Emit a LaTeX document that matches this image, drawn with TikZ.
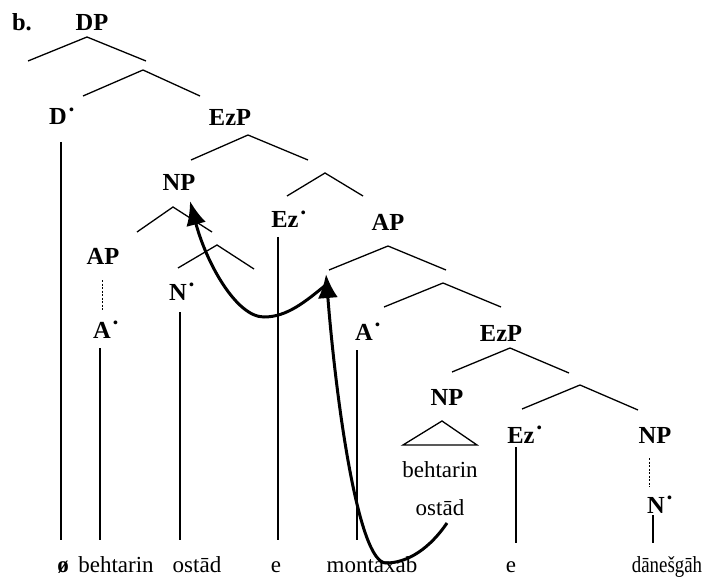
\documentclass[tikz,border=0pt]{standalone}
\usepackage{fontspec}
\setmainfont{Liberation Serif}
\usetikzlibrary{arrows.meta}
\newcommand{\bul}{\rlap{\raisebox{0.42em}{\fontsize{14}{14}\selectfont\,•}}}
\begin{document}
\begin{tikzpicture}[x=1pt,y=-1pt,
  lab/.style={font=\fontsize{24.5}{26}\selectfont\bfseries, anchor=base, inner sep=0pt},
  wrd/.style={font=\fontsize{23}{25}\selectfont, anchor=base, inner sep=0pt},
  br/.style={line width=1.3pt},
  vl/.style={line width=1.6pt},
  dl/.style={line width=1pt, dash pattern=on 2pt off 1.5pt},
  mv/.style={line width=3pt, -{Latex[length=24pt,width=20pt]}}]
\useasboundingbox (0,0) rectangle (704,580);
% labels
\node[lab] (bl) at (22,31) {b.};
\node[lab] (dp) at (92,31) {DP};
\node[lab] (dbar) at (58,125) {D\bul};
\node[lab] (ezp1) at (230,126) {EzP};
\node[lab] (np1) at (179,191) {NP};
\node[lab] (ez1) at (285,228) {Ez\bul};
\node[lab] (ap1) at (103,264) {AP};
\node[lab] (n1) at (178,300) {N\bul};
\node[lab] (a1) at (102,338) {A\bul};
\node[lab] (ap2) at (388,230) {AP};
\node[lab] (a2) at (364,340) {A\bul};
\node[lab] (ezp2) at (501,341) {EzP};
\node[lab] (np3) at (447,405) {NP};
\node[lab] (ez2) at (521,443) {Ez\bul};
\node[lab] (np4) at (655,443) {NP};
\node[lab] (n2) at (656,513) {N\bul};
\node[wrd] (inb) at (440,477) {behtarin};
\node[wrd] (ino) at (440,515) {ostād};
% bottom words
\node[wrd] (w0) at (63,572) {\textbf{ø}};
\node[wrd] (w1) at (116,572) {behtarin};
\node[wrd] (w2) at (197,572) {ostād};
\node[wrd] (w3) at (276,572) {e};
\node[wrd] (w4) at (372,572) {montaxab};
\node[wrd] (w5) at (511,572) {e};
\node[wrd] (w6) at (667,572) {\scalebox{0.82}[1]{dānešgāh}};
% branch coordinates
\coordinate (b1a) at (87,37);  \coordinate (b1l) at (28,61);  \coordinate (b1r) at (146,61);
\coordinate (b2a) at (143,70); \coordinate (b2l) at (83,96);  \coordinate (b2r) at (200,96);
\coordinate (b3a) at (248,135);\coordinate (b3l) at (191,160);\coordinate (b3r) at (308,160);
\coordinate (b4a) at (173,207);\coordinate (b4l) at (137,232);\coordinate (b4r) at (212,232);
\coordinate (b5a) at (217,245);\coordinate (b5l) at (178,268);\coordinate (b5r) at (254,269);
\coordinate (b6a) at (325,173);\coordinate (b6l) at (287,196);\coordinate (b6r) at (363,196);
\coordinate (b7a) at (388,246);\coordinate (b7l) at (329,270);\coordinate (b7r) at (446,270);
\coordinate (b8a) at (443,283);\coordinate (b8l) at (384,307);\coordinate (b8r) at (501,307);
\coordinate (b9a) at (510,348);\coordinate (b9l) at (452,372);\coordinate (b9r) at (569,373);
\coordinate (b10a) at (580,385);\coordinate (b10l) at (522,409);\coordinate (b10r) at (638,410);
\coordinate (ta) at (442,421); \coordinate (tl) at (403,445); \coordinate (tr) at (477,445);
\foreach \i in {1,...,10} {\draw[br] (b\i l) -- (b\i a) -- (b\i r);}
\draw[br] (tl) -- (ta) -- (tr) -- cycle;
% vertical lines
\coordinate (v1t) at (61,142);  \coordinate (v1b) at (61,540);
\coordinate (v2t) at (100,348); \coordinate (v2b) at (100,540);
\coordinate (v3t) at (180,312); \coordinate (v3b) at (180,540);
\coordinate (v4t) at (278,237); \coordinate (v4b) at (278,540);
\coordinate (v5t) at (357,350); \coordinate (v5b) at (357,540);
\coordinate (v6t) at (516,447); \coordinate (v6b) at (516,543);
\coordinate (v7t) at (653,515); \coordinate (v7b) at (653,543);
\foreach \i in {1,...,7} {\draw[vl] (v\i t) -- (v\i b);}
\coordinate (d1t) at (102,280); \coordinate (d1b) at (102,310);
\coordinate (d2t) at (649,458); \coordinate (d2b) at (649,487);
\draw[dl] (d1t) -- (d1b);
\draw[dl] (d2t) -- (d2b);
% movement arrows
\coordinate (mA0) at (447,523); \coordinate (mAb) at (386,563); \coordinate (mA1) at (326,274);
\draw[mv] (mA0) .. controls (430,548) and (408,563) .. (mAb) .. controls (358,563) and (336,400) .. (mA1);
\coordinate (mB0) at (327,284); \coordinate (mBb) at (264,317); \coordinate (mB1) at (190,201);
\draw[mv] (mB0) .. controls (305,302) and (287,317) .. (mBb) .. controls (236,317) and (206,262) .. (mB1);
\end{tikzpicture}
\end{document}
